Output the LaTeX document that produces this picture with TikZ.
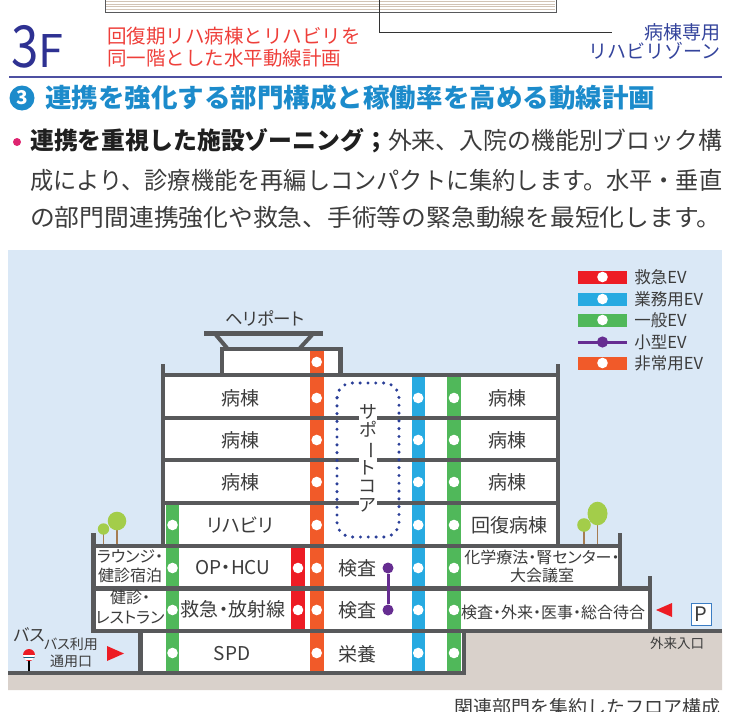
\documentclass[tikz,border=0pt]{standalone}
\usepackage{fontspec}
\setmainfont[RawFeature={+palt}]{Noto Sans CJK JP}
\newfontfamily\fulljp{Noto Sans CJK JP}
\usetikzlibrary{positioning}

\definecolor{wallgray}{HTML}{58595B}
\definecolor{skyblue}{HTML}{DAE8F6}
\definecolor{groundbeige}{HTML}{D9D1CB}
\definecolor{evred}{HTML}{ED1C24}
\definecolor{evblue}{HTML}{27AAE1}
\definecolor{evgreen}{HTML}{50B85A}
\definecolor{evorange}{HTML}{F15A29}
\definecolor{evpurple}{HTML}{662D91}
\definecolor{corenavy}{HTML}{2B3F98}
\definecolor{leafgreen}{HTML}{A3CD4A}
\definecolor{trunkbrown}{HTML}{A67C52}
\definecolor{textgray}{HTML}{3C3C3C}
\definecolor{headblue}{HTML}{1C8BCB}
\definecolor{titlenavy}{HTML}{2E3192}
\definecolor{zonenavy}{HTML}{34449C}
\definecolor{titlered}{HTML}{EE3F3A}
\definecolor{bulletpink}{HTML}{DE2470}
\definecolor{stripebeige}{HTML}{D2C4B6}
\definecolor{parkblue}{HTML}{3B7DC4}

\begin{document}
\begin{tikzpicture}[x=1pt, y=-1pt]

    \tikzstyle{wall} = [draw=wallgray, line width=4.6pt, line cap=rect]
    \tikzstyle{room} = [inner sep=0pt, align=center, text=textgray, font=\fontsize{19}{21}\selectfont]
    \tikzstyle{smallroom} = [inner sep=0pt, align=center, text=textgray, font=\fontsize{16}{18.5}\selectfont]
    \tikzstyle{bodytext} = [anchor=west, inner sep=0pt, text=textgray, font=\fulljp\fontsize{24}{24}\selectfont]
    \tikzstyle{evbar} = [rectangle, inner sep=0pt, minimum width=49pt, minimum height=13pt]
    \tikzstyle{legtext} = [inner sep=0pt, text=textgray, font=\fontsize{16.5}{18}\selectfont]
    \tikzstyle{trunk} = [draw=trunkbrown, line width=1.8pt]
    \tikzstyle{core} = [draw=corenavy, line width=3.4pt, line cap=round, dash pattern=on 0pt off 7.8pt, rounded corners=15pt]

    \useasboundingbox (0,0) rectangle (731,712);

    % tail of the plan above
    \draw[wallgray, line width=0.8pt, fill=white] (105,-5) rectangle (556,12);
    \foreach \y in {1.5,4,6.5,9}
        \draw[stripebeige, line width=0.7pt] (106,\y) -- (555,\y);
    \coordinate (leadtop) at (379,0);
    \coordinate (leadend) at (612,32);
    \draw[black!80, line width=0.9pt] (leadtop) |- (leadend);

    \node[anchor=base west, inner sep=0pt, text=titlenavy] (floorno) at (11,67)
        {{\fontsize{58}{58}\selectfont\scalebox{0.85}[1]{3}}{\fontsize{45}{45}\selectfont F}};
    \node[anchor=west, align=left, inner sep=0pt, text=titlered, font=\fulljp\fontsize{19.5}{21.5}\selectfont] (recovery) at (107,47)
        {回復期リハ病棟とリハビリを\\同一階とした水平動線計画};
    \node[anchor=east, align=right, inner sep=0pt, text=zonenavy, font=\fulljp\fontsize{19}{19}\selectfont] (rehabzone) at (721,41)
        {病棟専用\\リハビリゾーン};

    \draw[titlenavy!85, line width=2.6pt] (9,77) -- (722,77);

    \node[circle, fill=headblue, minimum size=25pt, inner sep=0pt, text=white, font=\bfseries\fontsize{19}{19}\selectfont] (secno) at (22,98) {3};
    \node[anchor=west, inner sep=0pt, text=headblue, font=\fulljp\bfseries\fontsize{26}{26}\selectfont] (heading) at (45,98)
        {\resizebox{610pt}{\height}{連携を強化する部門構成と稼働率を高める動線計画}};

    \node[circle, fill=bulletpink, minimum size=8pt, inner sep=0pt] (bullet) at (17,142) {};
    \node[bodytext] (bodyA) at (30,141)
        {\resizebox{692pt}{\height}{{\bfseries\color{black!88}連携を重視した施設ゾーニング；}外来、入院の機能別ブロック構}};
    \node[bodytext] (bodyB) at (30,180)
        {\resizebox{692pt}{\height}{成により、診療機能を再編しコンパクトに集約します。水平・垂直}};
    \node[bodytext] (bodyC) at (30,217)
        {\resizebox{691pt}{\height}{の部門間連携強化や救急、手術等の緊急動線を最短化します。}};

    % sky and ground
    \fill[skyblue] (8,250) rectangle (722,690);
    \fill[groundbeige] (8,673) -- (464,673) -- (464,631) -- (722,631) -- (722,690) -- (8,690) -- cycle;

    % floors
    \fill[white] (163,375) rectangle (558,546);
    \fill[white] (222,351) rectangle (340,375);
    \fill[white] (93,546) rectangle (620,588);
    \fill[white] (93,588) rectangle (650,631);
    \fill[white] (140,631) rectangle (464,673);

    % elevator shafts
    \fill[evorange] (310,349) rectangle (323.5,673);
    \fill[evblue] (411.5,375) rectangle (425,673);
    \fill[evgreen] (447,375) rectangle (461,673);
    \fill[evgreen] (166,503) rectangle (179,673);
    \fill[evred] (291,546) rectangle (305,631);

    \foreach \y in {398,440,482,525,568,610,653} {
        \fill[white] (316.7,\y) circle (5.3pt);
        \fill[white] (418.2,\y) circle (5.3pt);
        \fill[white] (454,\y) circle (5.3pt);
    }
    \fill[white] (316.7,362) circle (5.3pt);
    \foreach \y in {525,568,610,653}
        \fill[white] (172.5,\y) circle (5.3pt);
    \foreach \y in {568,610}
        \fill[white] (298,\y) circle (5.3pt);

    % slabs and walls
    \draw[wall] (163,366.5) -- (163,546);
    \draw[wall] (558,366.5) -- (558,546);
    \foreach \y in {375,418,460,503}
        \draw[wall] (163,\y) -- (558,\y);
    \draw[wall, line width=4.2pt] (222,375) -- (222,349) -- (340.5,349) -- (340.5,375);
    \draw[wall, line width=4.4pt] (206,333.5) -- (321,333.5);
    \draw[wall, line width=4pt, line cap=butt] (216,335) -- (227,348);
    \draw[wall, line width=4pt, line cap=butt] (312,335) -- (300,348);

    \draw[wall] (93.5,535.5) -- (93.5,631) -- (719.5,631);
    \draw[wall] (93.5,546) -- (620,546) -- (620,535.5);
    \draw[wall] (620,546) -- (620,588);
    \draw[wall] (93.5,588.5) -- (650,588.5) -- (650,578.5);
    \draw[wall] (650,588.5) -- (650,631);
    \draw[wall] (140.5,631) -- (140.5,673);
    \draw[wall] (464,631) -- (464,673);
    \draw[wall, line cap=butt] (8,673) -- (466.3,673);

    % support core
    \draw[core] (337,383) rectangle (399,537);
    \node[fill=white, inner sep=0.5pt, align=center, text=textgray, font=\fontsize{18}{18.2}\selectfont] (supportcore) at (368,458)
        {サ\\ポ\\\rotatebox[origin=c]{-90}{ー}\\ト\\コ\\ア};

    % small elevator
    \node[circle, fill=evpurple, minimum size=11pt, inner sep=0pt] (minievA) at (388,568) {};
    \node[circle, fill=evpurple, minimum size=11pt, inner sep=0pt] (minievB) at (388,610) {};
    \draw[evpurple, line width=3pt] (minievA) -- (minievB);

    % rooms
    \node[room, font=\fontsize{17.5}{18}\selectfont] (heliport) at (265,318) {ヘリポート};
    \foreach \y [count=\i] in {398,440,482} {
        \node[room] (wardw\i) at (240,\y) {病棟};
        \node[room] (warde\i) at (507,\y) {病棟};
    }
    \node[room] (rehab) at (240,525) {リハビリ};
    \node[room] (recward) at (509,525) {回復病棟};
    \node[smallroom] (lounge) at (130,566) {ラウンジ・\\健診宿泊};
    \node[room] (ophcu) at (233,568) {OP・HCU};
    \node[smallroom, font=\fontsize{16}{20}\selectfont] (restaurant) at (130,607) {健診・\\レストラン};
    \node[room] (emergency) at (233,609) {救急・放射線};
    \node[room] (examA) at (357,568) {検査};
    \node[room] (examB) at (357,610) {検査};
    \node[smallroom] (chemo) at (542,566.5) {化学療法・腎センター・\\大会議室};
    \node[smallroom] (outpatient) at (553,612) {検査・外来・医事・総合待合};
    \node[room] (spd) at (232,654) {SPD};
    \node[room] (kitchen) at (357,654) {栄養};

    % roof gardens
    \draw[trunk] (103.5,529) -- (103.5,544);
    \draw[trunk] (117,521) -- (117,544);
    \fill[leafgreen] (103.5,529) circle (5.7pt);
    \fill[leafgreen] (117,521) circle (9.3pt);
    \draw[trunk] (584,525) -- (584,544);
    \draw[trunk] (597.5,513) -- (597.5,544);
    \fill[leafgreen] (584,525) circle (6.8pt);
    \fill[leafgreen] (597.5,513.5) ellipse (10pt and 11.8pt);

    % legend
    \foreach \y/\c/\n/\t in {277/evred/legred/救急EV, 299/evblue/legblue/業務用EV, 320/evgreen/leggreen/一般EV, 363/evorange/legorange/非常用EV} {
        \node[evbar, fill=\c] (\n) at (602.5,\y) {};
        \fill[white] (\n.center) circle (5.3pt);
        \node[legtext, right=7pt of \n] (\n-t) {\t};
    }
    \draw[evpurple, line width=3pt] (578,342) -- (627,342);
    \node[evbar, fill=none] (legpurple) at (602.5,342) {};
    \fill[evpurple] (legpurple.center) circle (5.6pt);
    \node[legtext, right=7pt of legpurple] (legpurple-t) {小型EV};

    % entrances
    \node[inner sep=0pt, text=textgray, font=\fontsize{17}{17}\selectfont] (busstop) at (29,635) {バス};
    \node[inner sep=0pt, align=center, text=textgray, font=\fontsize{14}{17}\selectfont] (busgate) at (71,652.5) {バス利用\\通用口};
    \draw[black, line width=1.5pt] (29,660) -- (29,671);
    \fill[evred] (29,655) circle (6pt);
    \begin{scope}
        \clip (29,655) circle (6pt);
        \fill[white] (22,655) rectangle (36,660);
        \draw[evblue!60!black, line width=1pt] (22,657.5) -- (36,657.5);
    \end{scope}
    \fill[evred] (107,646) -- (124,653.5) -- (107,661) -- cycle;

    \fill[evred] (672,603) -- (656,610) -- (672,617) -- cycle;
    \node[draw=parkblue, line width=1pt, fill=white, minimum width=20pt, minimum height=22pt, inner sep=0pt, text=textgray, font=\fontsize{20}{20}\selectfont] (parking) at (701,614) {P};
    \node[inner sep=0pt, text=textgray, font=\fontsize{13.5}{14}\selectfont] (opdoor) at (677,643) {外来入口};

    \node[anchor=base east, inner sep=0pt, text=textgray, font=\fulljp\fontsize{19}{19}\selectfont] (caption) at (721,714.5) {関連部門を集約したフロア構成};

\end{tikzpicture}
\end{document}
